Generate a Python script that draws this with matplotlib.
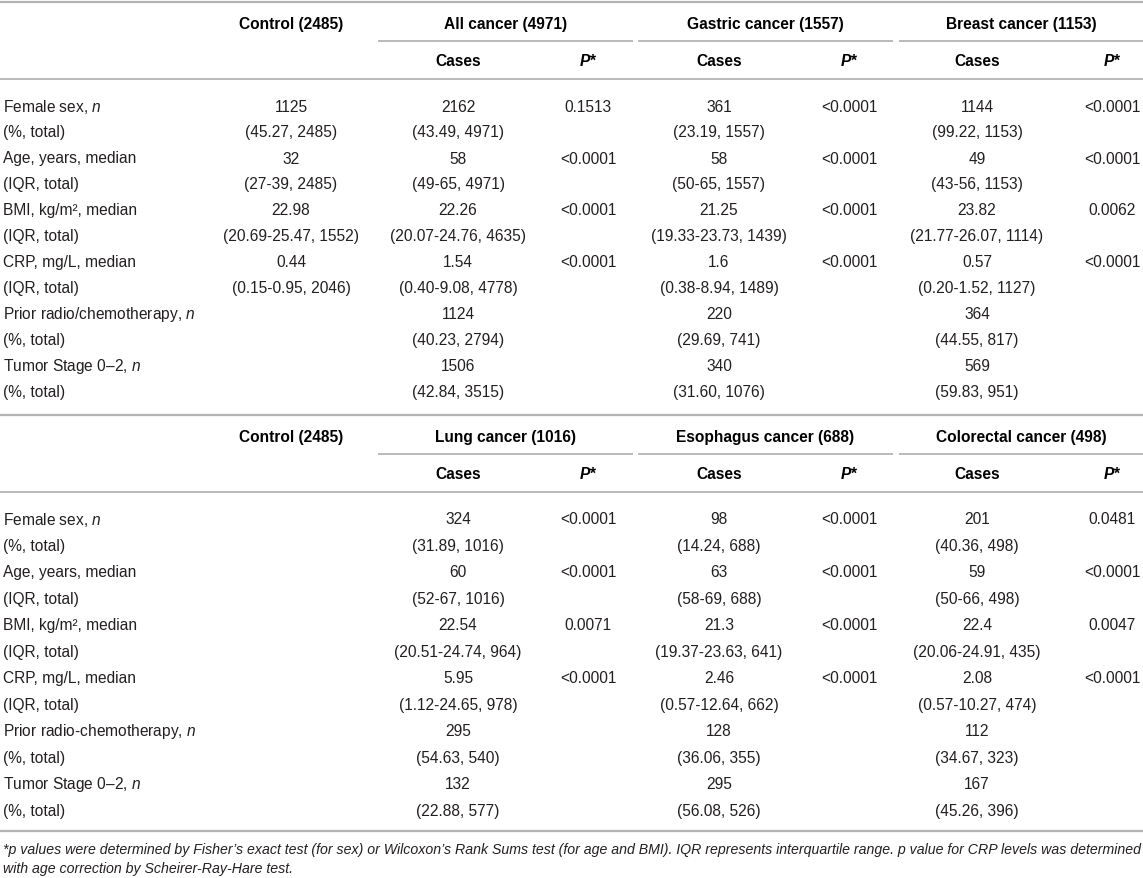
import matplotlib
matplotlib.use("Agg")
import matplotlib.pyplot as plt

plt.rcParams['font.family'] = ['Liberation Sans', 'DejaVu Sans']
plt.rcParams['mathtext.fontset'] = 'custom'
plt.rcParams['mathtext.rm'] = 'Liberation Sans'
plt.rcParams['mathtext.it'] = 'Liberation Sans:italic'

# ---------------- data ----------------
control_header = "Control (2485)"
top_groups = ["All cancer (4971)", "Gastric cancer (1557)", "Breast cancer (1153)"]
bottom_groups = ["Lung cancer (1016)", "Esophagus cancer (688)", "Colorectal cancer (498)"]
sub_headers = ["Cases", "P*"]

top_labels = ["Female sex, $n$", "(%, total)", "Age, years, median", "(IQR, total)",
              "BMI, kg/m², median", "(IQR, total)", "CRP, mg/L, median", "(IQR, total)",
              "Prior radio/chemotherapy, $n$", "(%, total)", "Tumor Stage 0–2, $n$", "(%, total)"]
bottom_labels = ["Female sex, $n$", "(%, total)", "Age, years, median", "(IQR, total)",
                 "BMI, kg/m², median", "(IQR, total)", "CRP, mg/L, median", "(IQR, total)",
                 "Prior radio-chemotherapy, $n$", "(%, total)", "Tumor Stage 0–2, $n$", "(%, total)"]

control_vals = ["1125", "(45.27, 2485)", "32", "(27-39, 2485)", "22.98", "(20.69-25.47, 1552)",
                "0.44", "(0.15-0.95, 2046)", "", "", "", ""]
control_vals_bottom = ["", "", "", "", "", "", "", "", "", "", "", ""]

all_cases = ["2162", "(43.49, 4971)", "58", "(49-65, 4971)", "22.26", "(20.07-24.76, 4635)",
             "1.54", "(0.40-9.08, 4778)", "1124", "(40.23, 2794)", "1506", "(42.84, 3515)"]
all_p = ["0.1513", "", "<0.0001", "", "<0.0001", "", "<0.0001", "", "", "", "", ""]

gastric_cases = ["361", "(23.19, 1557)", "58", "(50-65, 1557)", "21.25", "(19.33-23.73, 1439)",
                 "1.6", "(0.38-8.94, 1489)", "220", "(29.69, 741)", "340", "(31.60, 1076)"]
gastric_p = ["<0.0001", "", "<0.0001", "", "<0.0001", "", "<0.0001", "", "", "", "", ""]

breast_cases = ["1144", "(99.22, 1153)", "49", "(43-56, 1153)", "23.82", "(21.77-26.07, 1114)",
                "0.57", "(0.20-1.52, 1127)", "364", "(44.55, 817)", "569", "(59.83, 951)"]
breast_p = ["<0.0001", "", "<0.0001", "", "0.0062", "", "<0.0001", "", "", "", "", ""]

lung_cases = ["324", "(31.89, 1016)", "60", "(52-67, 1016)", "22.54", "(20.51-24.74, 964)",
              "5.95", "(1.12-24.65, 978)", "295", "(54.63, 540)", "132", "(22.88, 577)"]
lung_p = ["<0.0001", "", "<0.0001", "", "0.0071", "", "<0.0001", "", "", "", "", ""]

eso_cases = ["98", "(14.24, 688)", "63", "(58-69, 688)", "21.3", "(19.37-23.63, 641)",
             "2.46", "(0.57-12.64, 662)", "128", "(36.06, 355)", "295", "(56.08, 526)"]
eso_p = ["<0.0001", "", "<0.0001", "", "<0.0001", "", "<0.0001", "", "", "", "", ""]

colo_cases = ["201", "(40.36, 498)", "59", "(50-66, 498)", "22.4", "(20.06-24.91, 435)",
              "2.08", "(0.57-10.27, 474)", "112", "(34.67, 323)", "167", "(45.26, 396)"]
colo_p = ["0.0481", "", "<0.0001", "", "0.0047", "", "<0.0001", "", "", "", "", ""]

footnote = ["*p values were determined by Fisher’s exact test (for sex) or Wilcoxon’s Rank Sums test "
            "(for age and BMI). IQR represents interquartile range. p value for CRP levels was determined",
            "with age correction by Scheirer-Ray-Hare test."]

# ---------------- layout ----------------
W, H = 1143, 879
fig = plt.figure(figsize=(W / 100, H / 100), dpi=100)
ax = fig.add_axes([0, 0, 1, 1])
ax.set_xlim(0, W)
ax.set_ylim(H, 0)
ax.axis('off')

LINE = '#b4b4b4'
TXT = '#231f20'
FS = 11.2

x_label = 3
x_control = 291
group_spans = [(378, 633), (638, 893), (899, 1143)]
case_x = [458, 719, 977]
p_x = [588, 849, 1112]


def draw_table(y0, row_h, groups, labels, ctrl, cases_list, p_list):
    ax.hlines(y0, 0, W, color=LINE, lw=1.6)
    y_head = y0 + 22
    ax.text(x_control, y_head, control_header, ha='center', va='center',
            fontsize=FS, fontweight='bold', color='black')
    for (a, b), g in zip(group_spans, groups):
        ax.text((a + b) / 2, y_head, g, ha='center', va='center',
                fontsize=FS, fontweight='bold', color='black')
        ax.hlines(y0 + 39, a, b, color=LINE, lw=1.3)
    y_sub = y0 + 59
    for cx, px in zip(case_x, p_x):
        ax.text(cx, y_sub, sub_headers[0], ha='center', va='center',
                fontsize=FS, fontweight='bold', color='black')
        ax.text(px, y_sub, sub_headers[1], ha='center', va='center',
                fontsize=FS, fontweight='bold', style='italic', color='black')
    ax.hlines(y0 + 77, 0, W, color=LINE, lw=1.3)
    y_r = y0 + 104
    for i, lab in enumerate(labels):
        y = y_r + i * row_h
        ax.text(x_label, y, lab, ha='left', va='center', fontsize=FS, color=TXT)
        ax.text(x_control, y, ctrl[i], ha='center', va='center', fontsize=FS, color=TXT)
        for cx, px, cv, pv in zip(case_x, p_x, cases_list, p_list):
            ax.text(cx, y, cv[i], ha='center', va='center', fontsize=FS, color=TXT)
            ax.text(px, y, pv[i], ha='center', va='center', fontsize=FS, color=TXT)


draw_table(3, 26.0, top_groups, top_labels, control_vals,
           [all_cases, gastric_cases, breast_cases], [all_p, gastric_p, breast_p])
draw_table(416, 26.5, bottom_groups, bottom_labels, control_vals_bottom,
           [lung_cases, eso_cases, colo_cases], [lung_p, eso_p, colo_p])
ax.hlines(832, 0, W, color=LINE, lw=1.6)
for k, line in enumerate(footnote):
    ax.text(x_label, 850 + k * 19.5, line, ha='left', va='center', fontsize=10.2,
            style='italic', color=TXT)

fig.savefig('out.png', dpi=100)
